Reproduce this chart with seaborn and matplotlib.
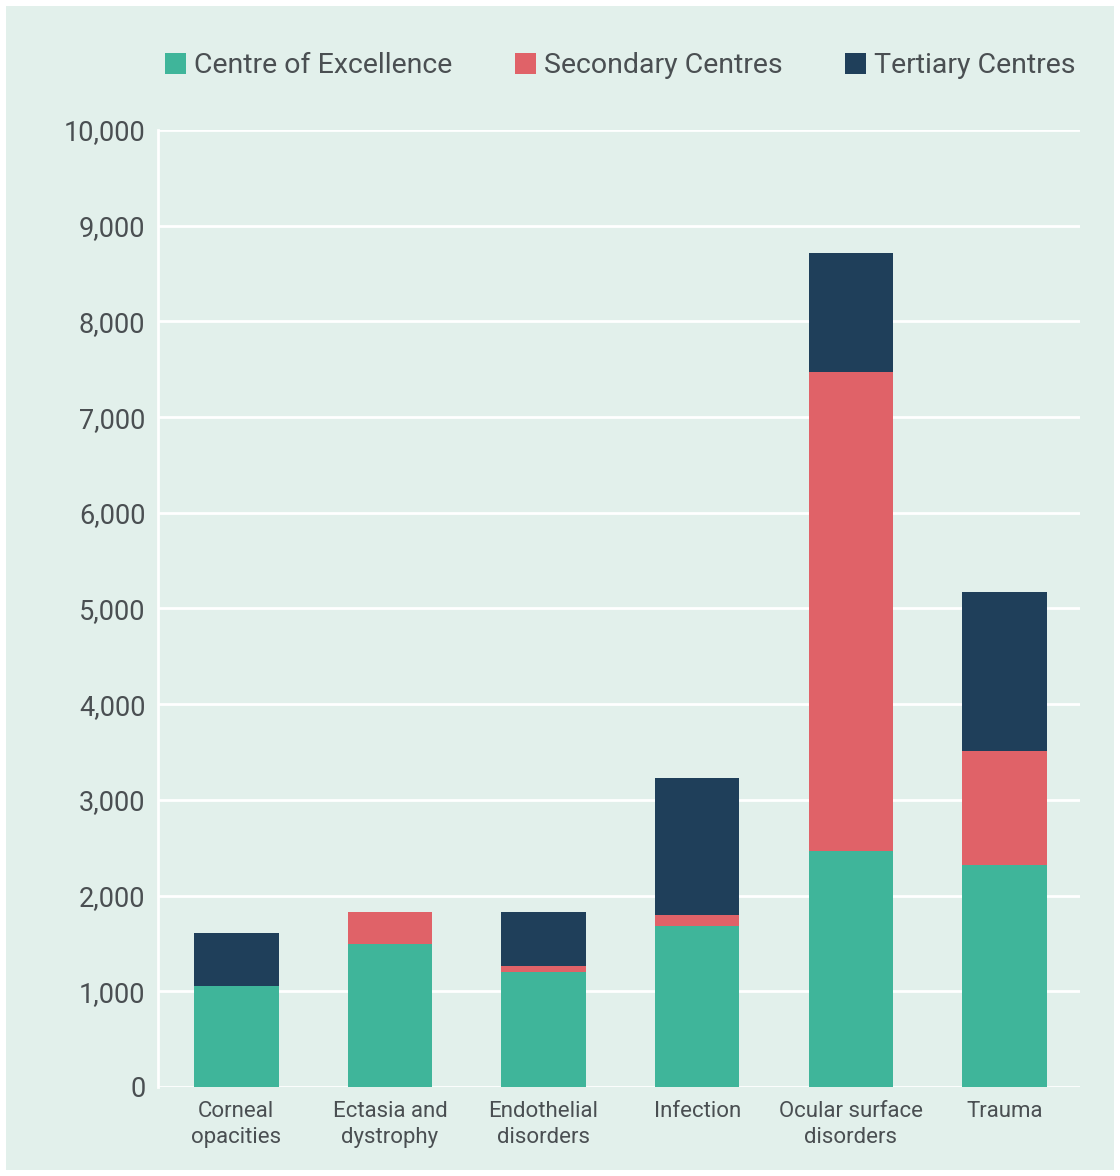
#! /usr/bin/env python3
# imports
import matplotlib
matplotlib.use('Agg')
import matplotlib.pyplot as plt
from matplotlib.patches import Patch, Rectangle
from matplotlib.ticker import FuncFormatter
import numpy as np
import pandas as pd
import seaborn as sns

# data
categories = ['Corneal\nopacities', 'Ectasia and\ndystrophy', 'Endothelial\ndisorders',
              'Infection', 'Ocular surface\ndisorders', 'Trauma']
excellence = [1050, 1490, 1200, 1680, 2470, 2320]
secondary = [0, 340, 65, 120, 5000, 1190]
tertiary = [560, 0, 565, 1430, 1245, 1660]
series = ['Centre of Excellence', 'Secondary Centres', 'Tertiary Centres']

# settings
sns.set_style("white")
plt.rcParams['font.family'] = ['Roboto', 'DejaVu Sans']
bg = '#E2F0EB'
txt = '#4A4F52'
pal = {'Centre of Excellence': '#3FB59A', 'Secondary Centres': '#E06268', 'Tertiary Centres': '#1F3F5A'}

df = pd.DataFrame({'cat': categories, 'exc': excellence, 'sec': secondary, 'ter': tertiary})
df['lvl1'] = df['exc']
df['lvl2'] = df['exc'] + df['sec']
df['lvl3'] = df['lvl2'] + df['ter']

# create plot
fig = plt.figure(figsize=(11.2, 11.76), dpi=100)
fig.patch.set_facecolor('white')
fig.patches.append(Rectangle((0.005, 0.005), 0.99, 0.99, transform=fig.transFigure,
                             facecolor=bg, edgecolor='none', zorder=-10))
ax = fig.add_axes([0.141, 0.0757, 0.823, 0.8138])
ax.set_facecolor(bg)

# stacked bars: draw cumulative totals back to front
for col, name in [('lvl3', 'Tertiary Centres'), ('lvl2', 'Secondary Centres'), ('lvl1', 'Centre of Excellence')]:
    sns.barplot(data=df, x='cat', y=col, color=pal[name], width=0.55, saturation=1,
                ax=ax, zorder=3, linewidth=0)

ax.set_ylim(0, 10000)
ax.set_xlim(-0.51, 5.49)
ax.set_yticks(np.arange(0, 10001, 1000))
ax.yaxis.set_major_formatter(FuncFormatter(lambda v, p: f'{int(v):,}'))
ax.grid(axis='y', color='white', linewidth=2, zorder=0)
ax.set_axisbelow(True)
for s in ['top', 'right', 'bottom']:
    ax.spines[s].set_visible(False)
ax.spines['left'].set_color('white')
ax.spines['left'].set_linewidth(2)
ax.tick_params(axis='y', length=0, pad=9, labelsize=19.5, labelcolor=txt)
ax.tick_params(axis='x', length=0, pad=10, labelsize=16, labelcolor=txt)
for lab in ax.get_xticklabels():
    lab.set_linespacing(1.35)
ax.set_xlabel('')
ax.set_ylabel('')

handles = [Patch(facecolor=pal[s], edgecolor='none', label=s) for s in series]
fig.legend(handles=handles, loc='center', bbox_to_anchor=(0.554, 0.944), ncol=3, frameon=False,
           fontsize=20.5, labelcolor=txt, handlelength=0.72, handleheight=0.72,
           handletextpad=0.3, columnspacing=2.2)

fig.savefig('out.png', dpi=100, facecolor=fig.get_facecolor())
plt.close()
